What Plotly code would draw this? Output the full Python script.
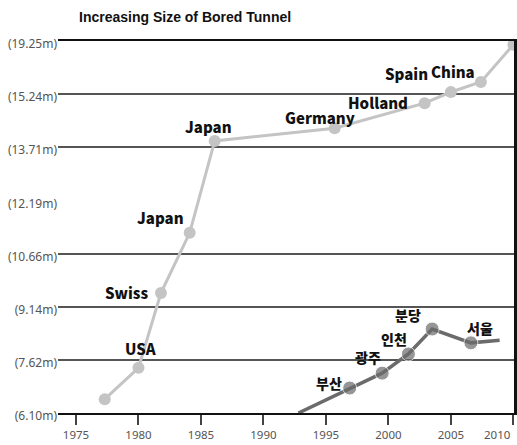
import plotly.graph_objects as go

# y levels (tunnel diameters) – drawn as evenly spaced steps like the original
level_labels = ["(6.10m)", "(7.62m)", "(9.14m)", "(10.66m)", "(12.19m)", "(13.71m)", "(15.24m)", "(19.25m)"]
level_index = [0, 1, 2, 3, 4, 5, 6, 7]
grid_levels = [0, 1, 2, 3, 5, 6, 7]  # no rule is drawn at 12.19m in the original

year_ticks = [1975, 1980, 1985, 1990, 1995, 2000, 2005, 2010]
year_text = ["1975", "1980", "1985", "1990", "1995", "2000", "2005", "2010"]

world_year = [1977.3, 1980.0, 1981.8, 1984.1, 1986.1, 1995.7, 2002.9, 2005.0, 2007.4, 2010.0]
world_level = [0.26, 0.85, 2.26, 3.39, 5.12, 5.36, 5.83, 6.04, 6.23, 6.93]
world_label = ["", "USA", "Swiss", "Japan", "Japan", "Germany", "Holland", "Spain", "China", ""]

korea_year = [1992.8, 1996.9, 1999.5, 2001.6, 2003.5, 2006.6, 2008.9]
korea_level = [0.0, 0.47, 0.75, 1.11, 1.58, 1.32, 1.37]
korea_label = ["", "부산", "광주", "인천", "분당", "서울", ""]

# label offsets in pixels (style)
world_off = [(0, 0), (3, 19), (-34, 0), (-29, 15), (-6, 14), (-15, 11), (-47, 1), (-44, 19), (-28, 10), (0, 0)]
korea_off = [(0, 0), (-21, 5), (-14, 16), (-14, 15), (-24, 14), (9, 15), (0, 0)]

LIGHT = "#c4c4c4"
DARK = "#6b6b6b"
TICKFONT = dict(family="Noto Sans", size=11.5, color="#555")

# the last year label sits flush against the right edge in the original,
# so it is drawn right-aligned at its tick instead of centred
tick_text = year_text[:-1] + [""]

fig = go.Figure()
fig.add_trace(go.Scatter(
    x=world_year, y=world_level, mode="lines+markers",
    line=dict(color=LIGHT, width=3), marker=dict(color=LIGHT, size=12),
    cliponaxis=False, hoverinfo="skip", showlegend=False))
fig.add_trace(go.Scatter(
    x=korea_year, y=korea_level, mode="lines+markers",
    line=dict(color=DARK, width=3.5),
    marker=dict(color=DARK, size=[0, 14, 14, 14, 14, 14, 0]),
    cliponaxis=False, hoverinfo="skip", showlegend=False))

annotations = []
for x, y, t, (dx, dy) in zip(world_year, world_level, world_label, world_off):
    if t:
        annotations.append(dict(x=x, y=y, text=t, showarrow=False, xshift=dx, yshift=dy,
                                font=dict(family="Noto Sans CJK KR", size=15, color="#111", weight=900)))
for x, y, t, (dx, dy) in zip(korea_year, korea_level, korea_label, korea_off):
    if t:
        annotations.append(dict(x=x, y=y, text=t, showarrow=False, xshift=dx, yshift=dy,
                                font=dict(family="Noto Sans CJK KR", size=14, color="#111", weight=900)))

annotations.append(dict(x=year_ticks[-1], xref="x", yref="paper", y=0, yshift=-12,
                        xanchor="right", yanchor="top", showarrow=False,
                        text=year_text[-1], font=TICKFONT))

annotations.append(dict(xref="paper", yref="paper", x=(77 - 58) / 456, y=1, yshift=24,
                        xanchor="left", yanchor="middle", showarrow=False,
                        text="Increasing Size of Bored Tunnel",
                        font=dict(family="Liberation Sans", size=14,
                                  color="#111", weight="bold")))

fig.update_layout(
    width=517, height=445,
    margin=dict(l=58, r=3, t=41, b=32),
    paper_bgcolor="white", plot_bgcolor="white",
    annotations=annotations,
    xaxis=dict(range=[1973.56, 2010.05], tickvals=year_ticks, ticktext=tick_text,
               automargin=False,
               ticks="outside", ticklen=10, ticklabelstandoff=0,
               tickwidth=2, tickcolor="#444", showgrid=False, zeroline=False,
               showline=True, mirror=True, linecolor="#111", linewidth=2,
               tickfont=TICKFONT),
    yaxis=dict(range=[0, 7], tickvals=level_index, ticktext=level_labels, ticks="",
               automargin=False,
               showgrid=False, zeroline=False, showline=False, ticklabelshift=3,
               ticklabelstandoff=0,
               tickfont=dict(family="Noto Sans", size=12, color="#555")),
    yaxis2=dict(range=[0, 7], overlaying="y", side="right", tickvals=grid_levels,
                automargin=False,
                showticklabels=False, ticks="", showgrid=True, gridcolor="#555", gridwidth=1.5,
                zeroline=False, showline=True, linecolor="#111", linewidth=3),
)
# invisible trace to activate yaxis2 (which draws the rules and right border)
fig.add_trace(go.Scatter(x=[None], y=[None], yaxis="y2", showlegend=False, hoverinfo="skip"))

fig.write_html("out.html")
